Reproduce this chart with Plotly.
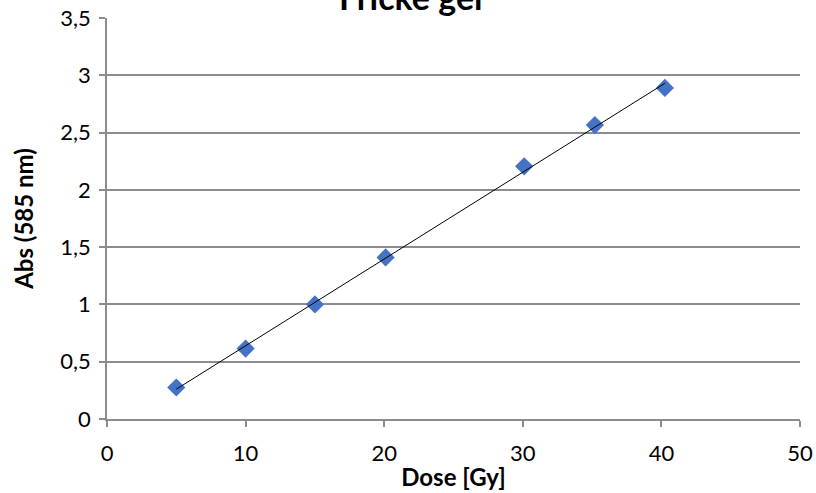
import numpy as np
import plotly.graph_objects as go

dose = [5.0, 10.0, 15.0, 20.1, 30.1, 35.2, 40.25]
absorb = [0.275, 0.615, 1.0, 1.41, 2.205, 2.565, 2.89]

slope, intercept = np.polyfit(dose, absorb, 1)
fit_x = [min(dose), max(dose)]
fit_y = [slope * x + intercept for x in fit_x]

FONT = "Lato, Carlito, 'Open Sans', sans-serif"

fig = go.Figure()
fig.add_trace(go.Scatter(
    x=dose, y=absorb, mode="markers",
    marker=dict(symbol="diamond", size=14, color="#4472C4", line=dict(width=0)),
    showlegend=False))
fig.add_trace(go.Scatter(
    x=fit_x, y=fit_y, mode="lines",
    line=dict(color="black", width=1), showlegend=False, hoverinfo="skip"))

fig.update_layout(
    width=816, height=493,
    margin=dict(l=107, r=16, t=18, b=74, autoexpand=False),
    paper_bgcolor="white", plot_bgcolor="white",
    separators=", ",
    font=dict(family=FONT, size=22, color="black"),
    xaxis=dict(
        range=[0, 50], tickvals=[0, 10, 20, 30, 40, 50],
        showgrid=False, zeroline=False, automargin=False,
        showline=True, linecolor="#8c8c8c", linewidth=1.5,
        ticks="outside", ticklen=6, tickcolor="#8c8c8c", tickwidth=1.5,
        ticklabelstandoff=8,
        title=dict(text="<b>Dose [Gy]</b>", standoff=4,
                   font=dict(family=FONT, size=24)),
        tickfont=dict(family=FONT, size=22),
    ),
    yaxis=dict(
        range=[0, 3.5], tickvals=[0, 0.5, 1, 1.5, 2, 2.5, 3, 3.5],
        showgrid=True, gridcolor="#8c8c8c", gridwidth=1.5,
        zeroline=False, automargin=False,
        showline=True, linecolor="#8c8c8c", linewidth=1.5,
        ticks="outside", ticklen=6, tickcolor="#8c8c8c", tickwidth=1.5,
        ticklabelstandoff=4,
        title=dict(text="<b>Abs (585 nm)</b>", standoff=20,
                   font=dict(family=FONT, size=24)),
        tickfont=dict(family=FONT, size=22),
    ),
    annotations=[dict(
        text="<b>Fricke gel</b>", xref="paper", yref="paper",
        x=0.4387, xanchor="center", y=1.0, yanchor="bottom", yshift=-1,
        showarrow=False, font=dict(family=FONT, size=34, color="black"))],
)

fig.write_html("out.html", config={"displayModeBar": False},
               post_script="document.body.style.margin='0';")
